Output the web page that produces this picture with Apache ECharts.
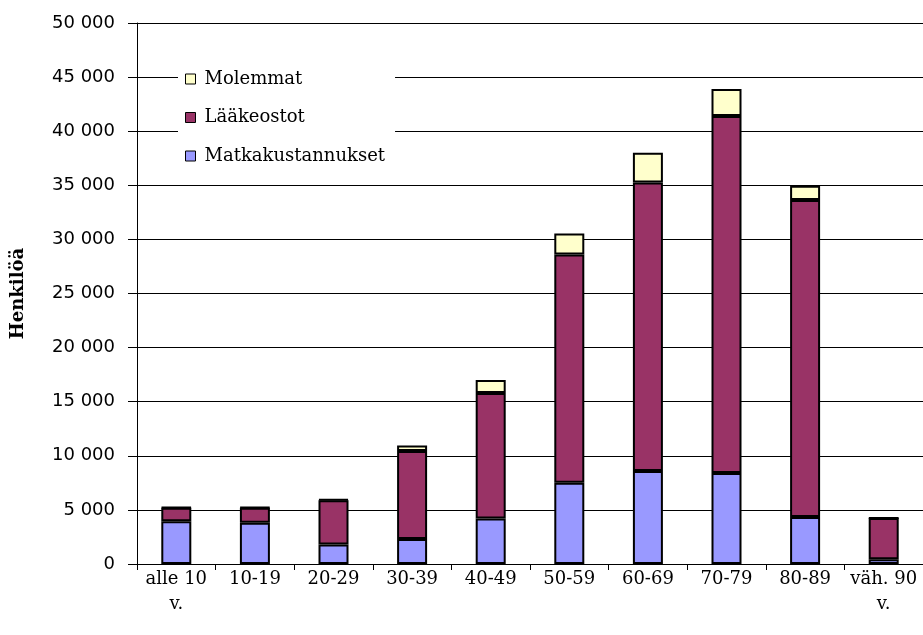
<!DOCTYPE html>
<html>
<head>
<meta charset="utf-8">
<script src="https://cdn.jsdelivr.net/npm/echarts@6/dist/echarts.min.js"></script>
<style>
  html, body { margin: 0; padding: 0; background: #fff; }
  #chart { width: 923px; height: 635px; }
</style>
</head>
<body>
<div id="chart"></div>
<script>
// Age groups on the x axis
const categories = ['alle 10\nv.', '10-19', '20-29', '30-39', '40-49', '50-59', '60-69', '70-79', '80-89', 'väh. 90\nv.'];

// Persons per reimbursement type (stacked: bottom to top)
const matkakustannukset = [3950, 3820, 1800, 2300, 4200, 7500, 8600, 8400, 4350, 450];
const laakeostot        = [1250, 1380, 4100, 8150, 11600, 21100, 26650, 33000, 29300, 3800];
const molemmat          = [40, 40, 80, 500, 1200, 1950, 2750, 2500, 1300, 20];

const yTicks = { min: 0, max: 50000, interval: 5000 };

const SERIF = 'DejaVu Serif';
const SANS = 'DejaVu Sans';

function fmt(v) {
  return String(v).replace(/\B(?=(\d{3})+(?!\d))/g, ' ');
}

const barStyle = (color) => ({ color: color, borderColor: '#000', borderWidth: 2 });

const chart = echarts.init(document.getElementById('chart'), null, { renderer: 'canvas' });
chart.setOption({
  animation: false,
  backgroundColor: '#fff',
  textStyle: { fontFamily: SERIF, color: '#000' },
  grid: { left: 137, top: 23, right: 0, bottom: 71, containLabel: false },
  legend: {
    orient: 'vertical',
    left: 178,
    top: 64,
    padding: [6, 10, 6, 7],
    backgroundColor: '#fff',
    icon: 'rect',
    itemWidth: 10,
    itemHeight: 10,
    itemGap: 20.5,
    itemStyle: { borderColor: '#000', borderWidth: 1 },
    textStyle: { fontFamily: SERIF, fontSize: 18, color: '#000', padding: [0, 0, 0, 4] },
    data: ['Molemmat', 'Lääkeostot', 'Matkakustannukset']
  },
  xAxis: {
    type: 'category',
    data: categories,
    axisLine: { lineStyle: { color: '#000', width: 1 } },
    axisTick: { show: true, alignWithLabel: false, length: 6, lineStyle: { color: '#000' } },
    axisLabel: { fontFamily: SERIF, fontSize: 18, color: '#000', margin: 3, lineHeight: 25, interval: 0 },
    splitLine: { show: false }
  },
  yAxis: {
    type: 'value',
    min: yTicks.min,
    max: yTicks.max,
    interval: yTicks.interval,
    name: 'Henkilöä',
    nameLocation: 'middle',
    nameGap: 110,
    nameTextStyle: { fontFamily: SERIF, fontSize: 18, fontWeight: 'bold', color: '#000' },
    axisLine: { show: true, lineStyle: { color: '#000', width: 1 } },
    axisTick: { show: true, length: 9, inside: false, lineStyle: { color: '#000' } },
    axisLabel: { fontFamily: SANS, fontSize: 18, color: '#000', margin: 22, formatter: fmt },
    splitLine: { show: true, lineStyle: { color: '#000', width: 1 } }
  },
  series: [
    {
      name: 'Matkakustannukset', type: 'bar', stack: 'total', barWidth: 30,
      itemStyle: barStyle('#9999FF'), data: matkakustannukset
    },
    {
      name: 'Lääkeostot', type: 'bar', stack: 'total', barWidth: 30,
      itemStyle: barStyle('#993366'), data: laakeostot
    },
    {
      name: 'Molemmat', type: 'bar', stack: 'total', barWidth: 30,
      itemStyle: barStyle('#FFFFCC'), data: molemmat
    }
  ]
});
</script>
</body>
</html>
